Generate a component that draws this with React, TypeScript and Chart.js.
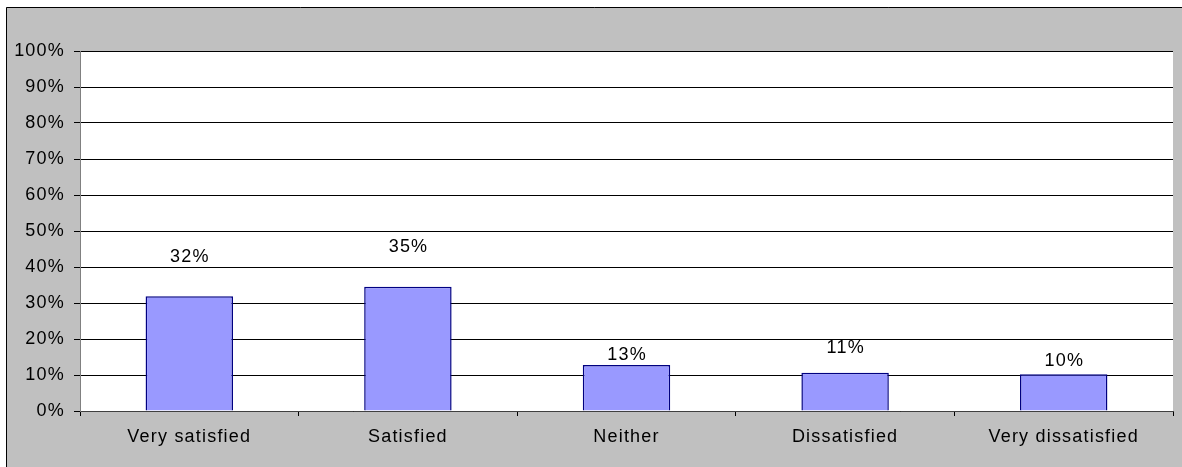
import React, { useEffect, useRef } from "react";
import { Chart, registerables } from "chart.js";

Chart.register(...registerables);

const categories = ["Very satisfied", "Satisfied", "Neither", "Dissatisfied", "Very dissatisfied"];
const values = [31.9, 34.5, 12.8, 10.6, 10.2];
const valueLabels = ["32%", "35%", "13%", "11%", "10%"];
const yTicks = [0, 10, 20, 30, 40, 50, 60, 70, 80, 90, 100];

const FONT = "'Liberation Sans', Arial, sans-serif";
const FONT_SIZE = 18;
const SPACING = "1.2px";

export default function App() {
  const ref = useRef<HTMLCanvasElement | null>(null);

  useEffect(() => {
    const canvas = ref.current!;

    const labelOffsets = [39, 40, 10, 25, 13];

    const setSpacing = (chart: any) => {
      (chart.ctx as any).letterSpacing = SPACING;
    };

    const bgPlugin = {
      id: "bgPlugin",
      beforeUpdate: setSpacing,
      beforeLayout: setSpacing,
      beforeDraw(chart: any) {
        const { ctx, chartArea } = chart;
        (ctx as any).letterSpacing = SPACING;
        const w = chart.width, h = chart.height;
        ctx.save();
        ctx.fillStyle = "#ffffff";
        ctx.fillRect(0, 0, w, h);
        ctx.fillStyle = "#c0c0c0";
        ctx.fillRect(6, 7, w - 6, h - 7);
        ctx.strokeStyle = "#000000";
        ctx.lineWidth = 1;
        ctx.beginPath();
        ctx.moveTo(6.5, h);
        ctx.lineTo(6.5, 7.5);
        ctx.lineTo(w + 2, 7.5);
        ctx.stroke();
        ctx.fillStyle = "#ffffff";
        ctx.fillRect(chartArea.left, chartArea.top, chartArea.right - chartArea.left, chartArea.bottom - chartArea.top);
        ctx.restore();
      },
    };

    const labelPlugin = {
      id: "labelPlugin",
      afterDatasetsDraw(chart: any) {
        const { ctx } = chart;
        const meta = chart.getDatasetMeta(0);
        ctx.save();
        (ctx as any).letterSpacing = SPACING;
        ctx.font = `${FONT_SIZE}px ${FONT}`;
        ctx.fillStyle = "#000000";
        ctx.textAlign = "center";
        ctx.textBaseline = "middle";
        meta.data.forEach((bar: any, i: number) => {
          ctx.fillText(valueLabels[i], bar.x + 0.6, bar.y - labelOffsets[i]);
        });
        ctx.restore();
      },
    };

    const chart = new Chart(canvas, {
      type: "bar",
      data: {
        labels: categories,
        datasets: [
          {
            data: values,
            backgroundColor: "#9999ff",
            borderColor: "#000080",
            borderWidth: 1.5,
            categoryPercentage: 1,
            barPercentage: 0.4,
          },
        ],
      },
      options: {
        responsive: false,
        animation: false,
        events: [],
        layout: { padding: { left: 0, top: 51, right: 9, bottom: 0 } },
        plugins: { legend: { display: false }, tooltip: { enabled: false } },
        scales: {
          x: {
            grid: {
              offset: true,
              drawOnChartArea: false,
              drawTicks: true,
              tickLength: 5,
              color: "#000000",
            },
            border: { color: "#404040", width: 1 },
            ticks: {
              color: "#000000",
              font: { family: FONT, size: FONT_SIZE },
              padding: 10,
              maxRotation: 0,
              autoSkip: false,
            },
            afterFit(scale: any) {
              scale.height = 56;
            },
          },
          y: {
            min: 0,
            max: 100,
            afterBuildTicks(scale: any) {
              scale.ticks = yTicks.map((v) => ({ value: v }));
            },
            grid: {
              color: "#000000",
              tickLength: 6,
              lineWidth: 1,
            },
            border: { color: "#808080", width: 1 },
            ticks: {
              color: "#000000",
              font: { family: FONT, size: FONT_SIZE },
              padding: 9,
              callback: (v: any) => `${v}%`,
            },
            afterFit(scale: any) {
              scale.width = 80;
            },
          },
        },
      },
      plugins: [bgPlugin, labelPlugin],
    });

    return () => chart.destroy();
  }, []);

  return (
    <div style={{ position: "fixed", left: 0, top: 0, width: 1182, height: 467 }}>
      <canvas ref={ref} width={1182} height={467} style={{ display: "block" }} />
    </div>
  );
}
